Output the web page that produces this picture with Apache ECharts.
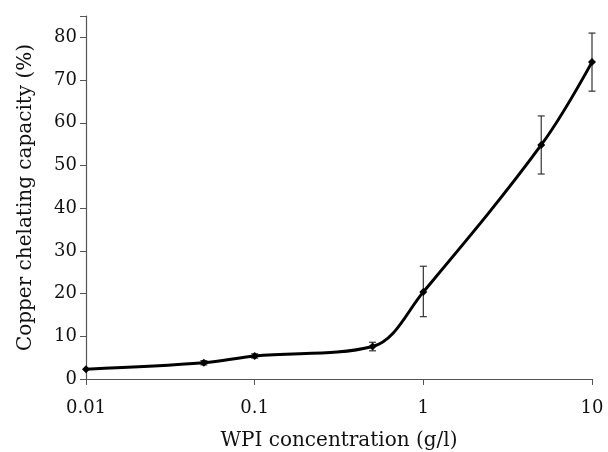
<!DOCTYPE html>
<html><head><meta charset="utf-8">
<script src="https://cdn.jsdelivr.net/npm/echarts@6/dist/echarts.min.js"></script>
<style>html,body{margin:0;padding:0;background:#fff}#c{width:608px;height:452px}</style>
</head><body><div id="c"></div>
<script>
const concentrations = [0.01, 0.05, 0.1, 0.5, 1, 5, 10];
const chelating = [2.3, 3.8, 5.4, 7.6, 20.4, 54.8, 74.2];
const errLow = [2.3, 3.3, 4.9, 6.6, 14.6, 48.0, 67.4];
const errHigh = [2.3, 4.3, 5.9, 8.6, 26.4, 61.6, 81.0];
const xTicks = [0.01, 0.1, 1, 10];
const yTicks = [0, 10, 20, 30, 40, 50, 60, 70, 80];

const font = '"DejaVu Serif", "Liberation Serif", serif';
const chart = echarts.init(document.getElementById('c'), null, {renderer: 'canvas'});
const lineData = concentrations.map((x, i) => [x, chelating[i]]);
const errData = concentrations.map((x, i) => [x, errLow[i], errHigh[i]]);

chart.setOption({
  animation: false,
  grid: {left: 86, right: 16, top: 16, bottom: 73, containLabel: false, outerBoundsMode: 'none'},
  xAxis: {
    type: 'log', logBase: 10, min: 0.01, max: 10,
    name: 'WPI concentration (g/l)', nameLocation: 'middle', nameGap: 52,
    nameTextStyle: {fontFamily: font, fontSize: 20, color: '#111'},
    axisLine: {lineStyle: {color: '#555', width: 1.2}},
    axisTick: {show: true, length: 6, lineStyle: {color: '#555'}},
    axisLabel: {fontFamily: font, fontSize: 18, color: '#111', margin: 20,
      formatter: v => String(+v.toPrecision(3))},
    splitLine: {show: false}, minorTick: {show: false}
  },
  yAxis: {
    type: 'value', min: 0, max: 85, interval: 10,
    name: 'Copper chelating capacity (%)', nameLocation: 'middle', nameGap: 50,
    nameTextStyle: {fontFamily: font, fontSize: 20, color: '#111'},
    axisLine: {show: true, lineStyle: {color: '#555', width: 1.2}},
    axisTick: {show: true, length: 6, lineStyle: {color: '#555'}},
    axisLabel: {fontFamily: font, fontSize: 18, color: '#111', margin: 9,
      formatter: v => yTicks.includes(v) ? String(v) : ''},
    splitLine: {show: false}
  },
  series: [
    {
      type: 'custom',
      data: errData,
      z: 3,
      renderItem: function (params, api) {
        const x = api.value(0);
        if (api.value(1) === api.value(2)) return null;
        const lo = api.coord([x, api.value(1)]);
        const hi = api.coord([x, api.value(2)]);
        const w = 3.5;
        const style = {stroke: '#333', lineWidth: 1.2};
        return {type: 'group', children: [
          {type: 'line', shape: {x1: lo[0], y1: lo[1], x2: hi[0], y2: hi[1]}, style},
          {type: 'line', shape: {x1: lo[0]-w, y1: lo[1], x2: lo[0]+w, y2: lo[1]}, style},
          {type: 'line', shape: {x1: hi[0]-w, y1: hi[1], x2: hi[0]+w, y2: hi[1]}, style}
        ]};
      }
    },
    {
      type: 'line',
      data: lineData,
      smooth: 0.35,
      symbol: 'diamond', symbolSize: 8,
      itemStyle: {color: '#000'},
      lineStyle: {color: '#000', width: 3},
      z: 4
    }
  ]
});
</script></body></html>
